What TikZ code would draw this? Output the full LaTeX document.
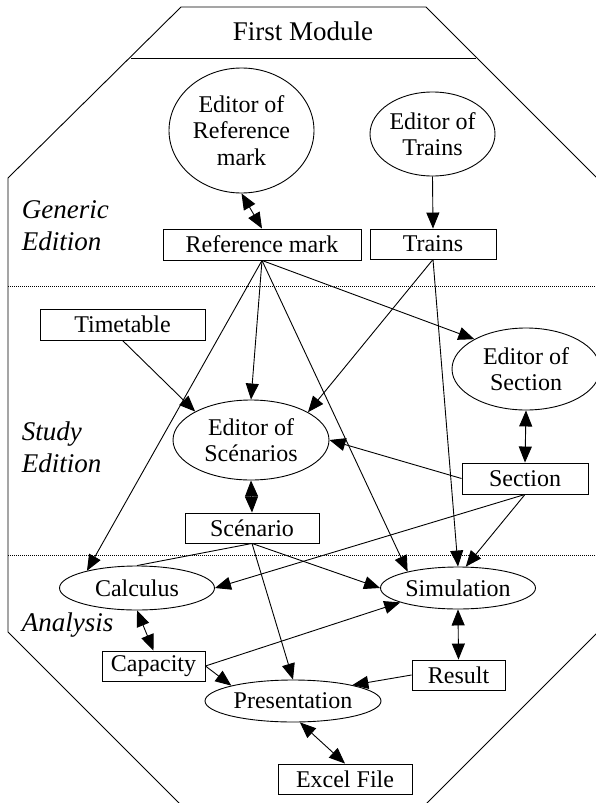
\documentclass[tikz,border=0pt]{standalone}
\usepackage{fontspec}
\setmainfont{Liberation Serif}
\usetikzlibrary{shapes.geometric,arrows.meta}
\newcommand{\nodefont}{\fontsize{24}{26.5}\selectfont}
\newcommand{\labelfont}{\fontsize{27}{32}\selectfont}
\begin{document}
\begin{tikzpicture}[x=1pt,y=-1pt,line width=0.9pt,
  box/.style={draw, rectangle, inner sep=0pt, font=\nodefont},
  oval/.style={draw, ellipse, inner sep=0pt, align=center, font=\nodefont},
  conn/.style={-{Triangle[length=16pt,width=13pt]}},
  dconn/.style={{Triangle[length=16pt,width=13pt]}-{Triangle[length=16pt,width=13pt]}},
  sep/.style={line width=0.6pt, dash pattern=on 1pt off 1pt},
  zone/.style={anchor=west, align=left, font=\labelfont\itshape}]
\useasboundingbox (0,0) rectangle (596,803);

% module outline and title band
\draw (181,7) -- (426,7) -- (602,183) -- (602,628) -- (426,804)
      -- (180,804) -- (8,632) -- (8,178) -- cycle;
\draw (131,58) -- (476,58);
\node[font=\labelfont] (title) at (303,31) {First Module};

% zone separators
\draw[sep] (8,286) -- (599,286);
\draw[sep] (8,555) -- (599,555);

% zone labels
\node[zone] (lgen) at (18,226) {Generic\\Edition};
\node[zone] (lstudy) at (18,447) {Study\\Edition};
\node[zone] (lana) at (18,625) {Analysis};

% editors
\node[oval, minimum width=145pt, minimum height=125pt] (edref) at (241.5,130.5) {Editor of\\Reference\\mark};
\node[oval, minimum width=125pt, minimum height=84pt] (edtrains) at (432.5,134) {Editor of\\Trains};
\node[oval, minimum width=148pt, minimum height=82pt] (edsec) at (526,369) {Editor of\\Section};
\node[oval, minimum width=156pt, minimum height=80pt] (edscen) at (251,440) {Editor of\\Sc\'enarios};

% data
\node[box, minimum width=198pt, minimum height=31pt] (refmark) at (262,244.5) {Reference mark};
\node[box, minimum width=126pt, minimum height=30pt] (trains) at (433,244) {Trains};
\node[box, minimum width=165pt, minimum height=31pt] (timetable) at (122.5,324.5) {Timetable};
\node[box, minimum width=126pt, minimum height=31pt] (section) at (525,478.5) {Section};
\node[box, minimum width=134pt, minimum height=30pt] (scen) at (252,528) {Sc\'enario};
\node[box, minimum width=103pt, minimum height=30pt] (capacity) at (153.5,666) {Capacity};
\node[box, minimum width=93pt, minimum height=30pt] (result) at (458.5,675) {Result};
\node[box, minimum width=134pt, minimum height=30pt] (excel) at (345,779) {Excel File};

% analysis tools
\node[oval, minimum width=155pt, minimum height=44pt] (calc) at (137,588) {Calculus};
\node[oval, minimum width=155pt, minimum height=42pt] (sim) at (458,588) {Simulation};
\node[oval, minimum width=176pt, minimum height=42pt] (pres) at (293,701) {Presentation};

% generic edition links
\draw[dconn] (edref.south) -- (refmark.north);
\draw[conn] (edtrains.south) -- (trains.north);

% study edition links
\draw[conn] (refmark.south) -- (edscen.north);
\draw[conn] (refmark.south) -- (calc.161);
\draw[conn] (refmark.south) -- (sim.162);
\draw[conn] (refmark.south) -- (edsec.150);
\draw[conn] (trains.south) -- (edscen.26);
\draw[conn] (trains.south) -- (sim.north);
\draw[conn] (timetable.south) -- (edscen.153);
\draw[dconn] (edsec.south) -- (section.north);
\draw[conn] (section.west) -- (edscen.east);
\draw[conn] (section.south) -- (calc.east);
\draw[conn] (section.south) -- (sim.70);
\draw[dconn] (edscen.south) -- (scen.north);

% analysis links
\draw (scen.south) -- (calc.north);
\draw[conn] (scen.south) -- (sim.west);
\draw[conn] (scen.south) -- (pres.north);
\draw[dconn] (calc.south) -- (capacity.north);
\draw[conn] (capacity.east) -- (sim.194);
\draw[conn] (capacity.east) -- (pres.166);
\draw[dconn] (sim.south) -- (result.north);
\draw[conn] (result.west) -- (pres.15);
\draw[dconn] (pres.-72) -- (excel.north);
\end{tikzpicture}
\end{document}
